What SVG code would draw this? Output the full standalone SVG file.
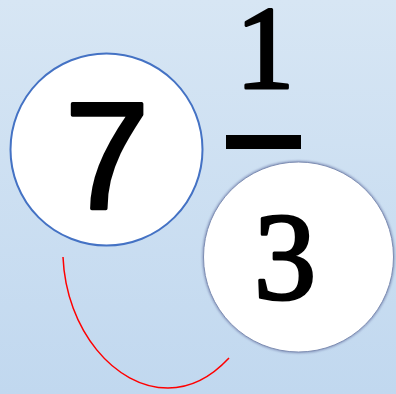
<svg xmlns="http://www.w3.org/2000/svg" width="396" height="394" viewBox="0 0 396 394">
<defs>
<linearGradient id="bg" x1="0" y1="0" x2="0" y2="1">
<stop offset="0" stop-color="#d7e6f4"/>
<stop offset="1" stop-color="#c1d8ef"/>
</linearGradient>
<filter id="glow" x="-10%" y="-10%" width="120%" height="120%">
<feGaussianBlur stdDeviation="1"/>
</filter>
</defs>
<style>
.num{fill:#000;stroke:#000;stroke-linejoin:round;text-anchor:middle}
.sans{font-family:"Liberation Sans",Arial,sans-serif;stroke-width:3.5}
.serif{font-family:"Liberation Serif","Times New Roman",serif;stroke-width:3}
</style>
<rect width="396" height="394" fill="url(#bg)"/>
<g id="connectors">
<path d="M63,257 C66,330 115,388 168,388 C195,388 215,373 229,358" fill="none" stroke="#ff0000" stroke-width="1.5"/>
</g>
<g id="whole">
<circle cx="106.5" cy="149.5" r="96" fill="#fff" stroke="#4472c4" stroke-width="2"/>
<text class="num sans" x="107" y="208" font-size="152">7</text>
</g>
<g id="numerator">
<text class="num serif" x="265" y="88" font-size="118">1</text>
</g>
<g id="bar">
<rect x="226" y="135" width="75" height="14" fill="#000"/>
</g>
<g id="denominator">
<circle cx="298.5" cy="257" r="95" fill="none" stroke="#8a9ac0" stroke-width="2.5" filter="url(#glow)"/>
<circle cx="298.5" cy="257" r="95" fill="#fff" stroke="#7d8db2" stroke-width="1"/>
<text class="num serif" x="285" y="299" font-size="125">3</text>
</g>
</svg>
